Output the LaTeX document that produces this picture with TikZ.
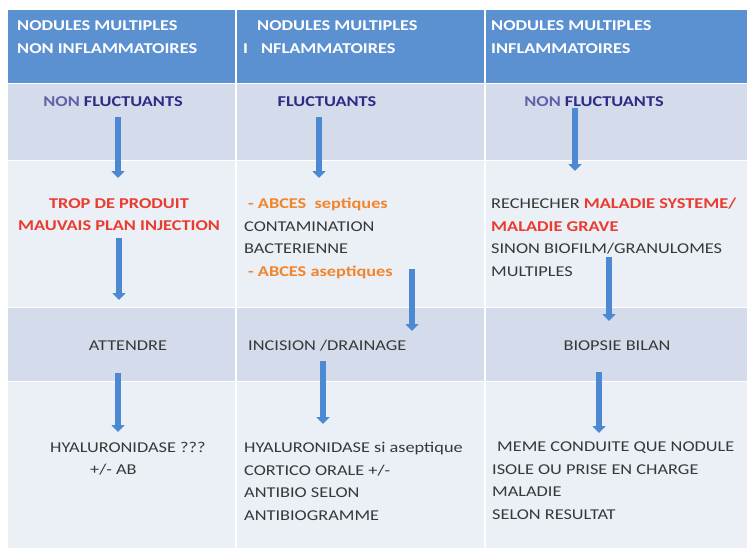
\documentclass[tikz,border=0pt]{standalone}
\usepackage{fontspec}
\setmainfont[FakeStretch=1.22]{Carlito}
\usepackage{tikz}
\usetikzlibrary{arrows.meta,positioning}

\definecolor{hdrblue}{HTML}{5B91D0}
\definecolor{rowdark}{HTML}{D4DCEC}
\definecolor{rowlight}{HTML}{EBEFF6}
\definecolor{arrblue}{HTML}{4C89D2}
\definecolor{txtred}{HTML}{EA3B2E}
\definecolor{txtorange}{HTML}{F2842A}
\definecolor{txtnavy}{HTML}{2D2B84}
\definecolor{txtnon}{HTML}{5F62A8}
\definecolor{txtgray}{HTML}{383838}
\newcommand{\cellfont}{\fontsize{15}{22.5}\selectfont}

\begin{document}
\begin{tikzpicture}[x=1pt,y=-1pt,>={Triangle[width=13pt,length=7pt]},
    font=\cellfont]
  \tikzstyle{txt}=[inner sep=0pt,anchor=north west,align=left,text=txtgray]
  \tikzstyle{hdr}=[txt,text=white,font=\fontsize{15}{23}\selectfont\bfseries]
  \tikzstyle{mid}=[inner sep=0pt,text=txtgray]
  \tikzstyle{bold}=[font=\cellfont\bfseries]
  \tikzstyle{flow}=[->,draw=arrblue,line width=6pt]

  \useasboundingbox (0,0) rectangle (747,550);

  % bands of the table
  \fill[hdrblue]  (8,10)  rectangle (747,83);
  \fill[rowdark]  (8,83)  rectangle (747,160);
  \fill[rowlight] (8,160) rectangle (747,307);
  \fill[rowdark]  (8,307) rectangle (747,381);
  \fill[rowlight] (8,381) rectangle (747,548);
  \draw[white,line width=1.5pt] (236,10) -- (236,548) (485,10) -- (485,548);
  \draw[white,line width=0.8pt] (8,83) -- (747,83) (8,160) -- (747,160)
       (8,307) -- (747,307) (8,381) -- (747,381);

  \node[hdr] (H1) at (17,20)  {NODULES MULTIPLES\\NON INFLAMMATOIRES};
  \node[hdr] (H2) at (243,20) {\hspace*{14pt}NODULES MULTIPLES\\I\hspace{13pt}NFLAMMATOIRES};
  \node[hdr] (H3) at (491,20) {NODULES MULTIPLES\\INFLAMMATOIRES};

  \node[mid,bold] (F1) at (113,102) {\textcolor{txtnon}{NON} \textcolor{txtnavy}{FLUCTUANTS}};
  \node[mid,bold] (F2) at (327,102) {\textcolor{txtnavy}{FLUCTUANTS}};
  \node[mid,bold] (F3) at (594,102) {\textcolor{txtnon}{NON} \textcolor{txtnavy}{FLUCTUANTS}};

  \node[mid,bold,anchor=north,align=center,text=txtred] (R1) at (119,198)
       {TROP DE PRODUIT\\MAUVAIS PLAN INJECTION};
  \node[txt] (R2) at (244,198) {\textcolor{txtorange}{\bfseries\hspace*{4pt}- ABCES\ \ septiques}\\CONTAMINATION\\BACTERIENNE\\
       \textcolor{txtorange}{\bfseries\hspace*{4pt}- ABCES aseptiques}};
  \node[txt] (R3) at (491,198) {RECHECHER \textcolor{txtred}{\bfseries MALADIE SYSTEME/}\\
       \textcolor{txtred}{\bfseries MALADIE GRAVE}\\SINON BIOFILM/GRANULOMES\\MULTIPLES};

  \node[mid] (D1) at (128,346) {ATTENDRE};
  \node[mid,anchor=west] (D2) at (248,346) {INCISION /DRAINAGE};
  \node[mid] (D3) at (617,346) {BIOPSIE BILAN};

  \node[txt] (T1) at (50,442)  {HYALURONIDASE ???\\\hspace*{40pt}+/- AB};
  \node[txt] (T2) at (244,442) {HYALURONIDASE si aseptique\\CORTICO ORALE +/-\\ANTIBIO SELON\\ANTIBIOGRAMME};
  \node[txt] (T3) at (492,442) {\hspace*{5pt}MEME CONDUITE QUE NODULE\\ISOLE OU PRISE EN CHARGE\\MALADIE\\SELON RESULTAT};

  % arrow ends
  \coordinate (P1) at (118,117); \coordinate (Q1) at (118,178);
  \coordinate (P2) at (319,117); \coordinate (Q2) at (319,178);
  \coordinate (P3) at (575,108); \coordinate (Q3) at (575,171);
  \coordinate (P4) at (119,238); \coordinate (Q4) at (119,300);
  \coordinate (P5) at (412,269); \coordinate (Q5) at (412,331);
  \coordinate (P6) at (609,257); \coordinate (Q6) at (609,321);
  \coordinate (P7) at (118,373); \coordinate (Q7) at (118,432);
  \coordinate (P8) at (323,361); \coordinate (Q8) at (323,424);
  \coordinate (P9) at (599,372); \coordinate (Q9) at (599,433);

  \path (P1) edge[flow] (Q1)
        (P2) edge[flow] (Q2)
        (P3) edge[flow] (Q3)
        (P4) edge[flow] (Q4)
        (P5) edge[flow] (Q5)
        (P6) edge[flow] (Q6)
        (P7) edge[flow] (Q7)
        (P8) edge[flow] (Q8)
        (P9) edge[flow] (Q9);
\end{tikzpicture}
\end{document}
